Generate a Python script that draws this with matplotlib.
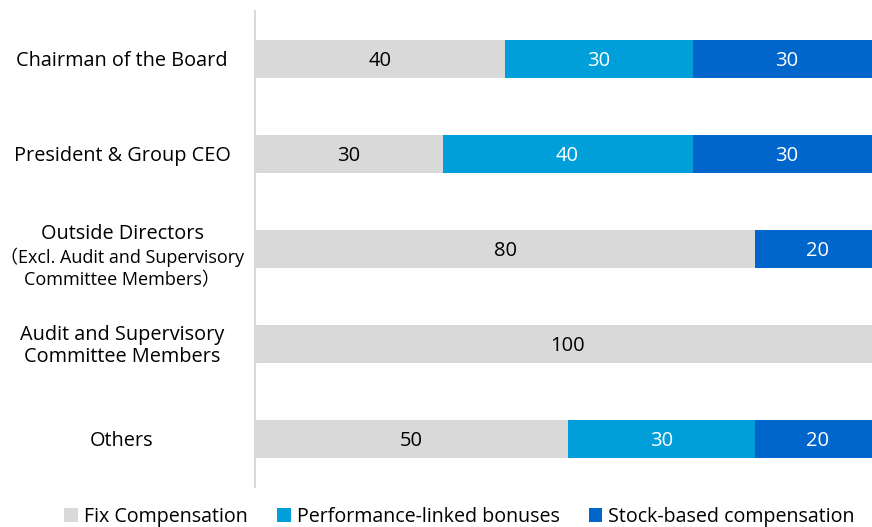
import matplotlib.pyplot as plt
import numpy as np

plt.rcParams['font.family'] = ['Open Sans', 'Noto Sans CJK JP', 'DejaVu Sans']

roles = ['Chairman of the Board',
         'President & Group CEO',
         'Outside Directors\n\uff08Excl. Audit and Supervisory\nCommittee Members\uff09',
         'Audit and Supervisory\nCommittee Members',
         'Others']
fix_comp = [40, 30, 80, 100, 50]
perf_bonus = [30, 40, 0, 0, 30]
stock_comp = [30, 30, 20, 0, 20]

series = [('Fix Compensation', fix_comp, '#D9D9D9', 'black'),
          ('Performance-linked bonuses', perf_bonus, '#009FDA', 'white'),
          ('Stock-based compensation', stock_comp, '#0066CC', 'white')]

fig = plt.figure(figsize=(8.72, 5.27), dpi=100)
ax = fig.add_axes([255 / 872, 40 / 527, 625 / 872, 476 / 527])

y = np.arange(len(roles))
left = np.zeros(len(roles))
for name, vals, color, txt in series:
    vals = np.array(vals, dtype=float)
    bars = ax.barh(y, vals, left=left, height=0.4, color=color, label=name)
    for b, v in zip(bars, vals):
        if v > 0:
            ax.text(b.get_x() + b.get_width() / 2, b.get_y() + b.get_height() / 2 + 0.02,
                    f'{v:g}', ha='center', va='center', color=txt, fontsize=14.5)
    left += vals

ax.set_xlim(0, 100)
ax.set_ylim(len(roles) - 0.5, -0.5)
ax.set_xticks([])
ax.set_yticks([])

# category names centred in the space left of the axis
lab_x = -133 / 625 * 100
for i, name in enumerate(roles):
    lines = name.split('\n')
    if len(lines) == 3:
        # headline in full size, bracketed note a bit smaller
        ax.text(lab_x, i - 0.16, lines[0], ha='center', va='center',
                fontsize=14.3, clip_on=False)
        ax.text(lab_x, i + 0.2, '\n'.join(lines[1:]), ha='center', va='center',
                fontsize=13, linespacing=1.3, clip_on=False)
    else:
        ax.text(lab_x, i + 0.02, name, ha='center', va='center',
                fontsize=14.3, linespacing=1.15, clip_on=False)

for s in ['top', 'right', 'bottom']:
    ax.spines[s].set_visible(False)
ax.spines['left'].set_color('#D9D9D9')
ax.spines['left'].set_linewidth(1.5)

leg = ax.legend(loc='center', ncol=3, frameon=False, fontsize=14.1,
                handlelength=0.7, handleheight=0.7, handletextpad=0.3,
                columnspacing=1.5)
leg.set_bbox_to_anchor((0.527, 10 / 527), transform=fig.transFigure)

fig.savefig('out.png', dpi=100)
